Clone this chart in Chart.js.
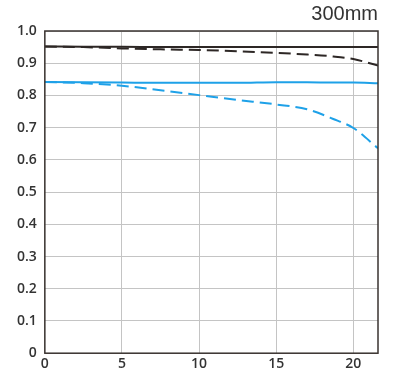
<!DOCTYPE html>
<html>
<head>
<meta charset="UTF-8">
<title>300mm MTF</title>
<style>
    body { margin: 0; background: #fff; }
    #wrap { width: 399px; height: 386px; }
</style>
<script src="https://cdn.jsdelivr.net/npm/chart.js"></script>
</head>
<body>
<div id="wrap"><canvas id="grafico"></canvas></div>
<script>
// image height (mm) and contrast values
const imageHeight = [0, 2.5, 5, 7.5, 10, 12.5, 15, 17, 18.7, 20, 21.6];
const sagittal10 = [0.952, 0.951, 0.951, 0.950, 0.950, 0.950, 0.950, 0.950, 0.950, 0.950, 0.950];
const meridional10 = [0.952, 0.950, 0.946, 0.943, 0.941, 0.937, 0.932, 0.927, 0.921, 0.913, 0.893];
const sagittal30 = [0.842, 0.841, 0.840, 0.839, 0.839, 0.839, 0.841, 0.841, 0.840, 0.840, 0.838];
const meridional30 = [0.842, 0.838, 0.830, 0.816, 0.801, 0.786, 0.772, 0.757, 0.727, 0.699, 0.636];
const xTicks = [0, 5, 10, 15, 20];
const yTicks = [0, 0.1, 0.2, 0.3, 0.4, 0.5, 0.6, 0.7, 0.8, 0.9, 1.0];

const negro = '#2d2725';
const azul = '#1ea1e8';

function serie(datos, color, dash) {
    return {
        data: imageHeight.map((x, i) => ({ x: x, y: datos[i] })),
        borderColor: color,
        borderWidth: 2,
        borderDash: dash,
        pointRadius: 0,
        showLine: true,
        cubicInterpolationMode: 'monotone',
        fill: false
    };
}

// marco oscuro alrededor del area
const marco = {
    id: 'marco',
    afterDraw(chart) {
        const a = chart.chartArea;
        const ctx = chart.ctx;
        ctx.save();
        ctx.strokeStyle = '#3a3330';
        ctx.lineWidth = 1.5;
        ctx.strokeRect(a.left, a.top, a.right - a.left, a.bottom - a.top);
        ctx.restore();
    }
};

const fuenteTicks = { family: 'Open Sans', size: 14, weight: '600' };

new Chart(document.getElementById('grafico'), {
    type: 'scatter',
    data: {
        datasets: [
            serie(sagittal10, negro, []),
            serie(meridional10, negro, [12, 6]),
            serie(sagittal30, azul, []),
            serie(meridional30, azul, [12, 6])
        ]
    },
    options: {
        responsive: true,
        maintainAspectRatio: false,
        animation: false,
        layout: { padding: { left: 9, right: 21, top: 2, bottom: 12 } },
        plugins: {
            legend: { display: false },
            tooltip: { enabled: false },
            title: {
                display: true,
                text: '300mm',
                align: 'end',
                color: '#333',
                font: { family: 'Liberation Sans', size: 20, weight: 'normal' },
                padding: { top: 0, bottom: 5 }
            }
        },
        scales: {
            x: {
                type: 'linear',
                min: 0,
                max: 21.6,
                afterBuildTicks: axis => { axis.ticks = xTicks.map(v => ({ value: v })); },
                ticks: {
                    color: '#333',
                    font: fuenteTicks,
                    padding: 2,
                    maxRotation: 0
                },
                grid: { color: '#c4c4c4', lineWidth: 1, drawTicks: false },
                border: { display: false }
            },
            y: {
                min: 0,
                max: 1,
                afterBuildTicks: axis => { axis.ticks = yTicks.map(v => ({ value: v })); },
                ticks: {
                    color: '#333',
                    font: fuenteTicks,
                    padding: 8,
                    callback: v => v === 0 ? '0' : v.toFixed(1)
                },
                grid: { color: '#c4c4c4', lineWidth: 1, drawTicks: false },
                border: { display: false }
            }
        }
    },
    plugins: [marco]
});
</script>
</body>
</html>
